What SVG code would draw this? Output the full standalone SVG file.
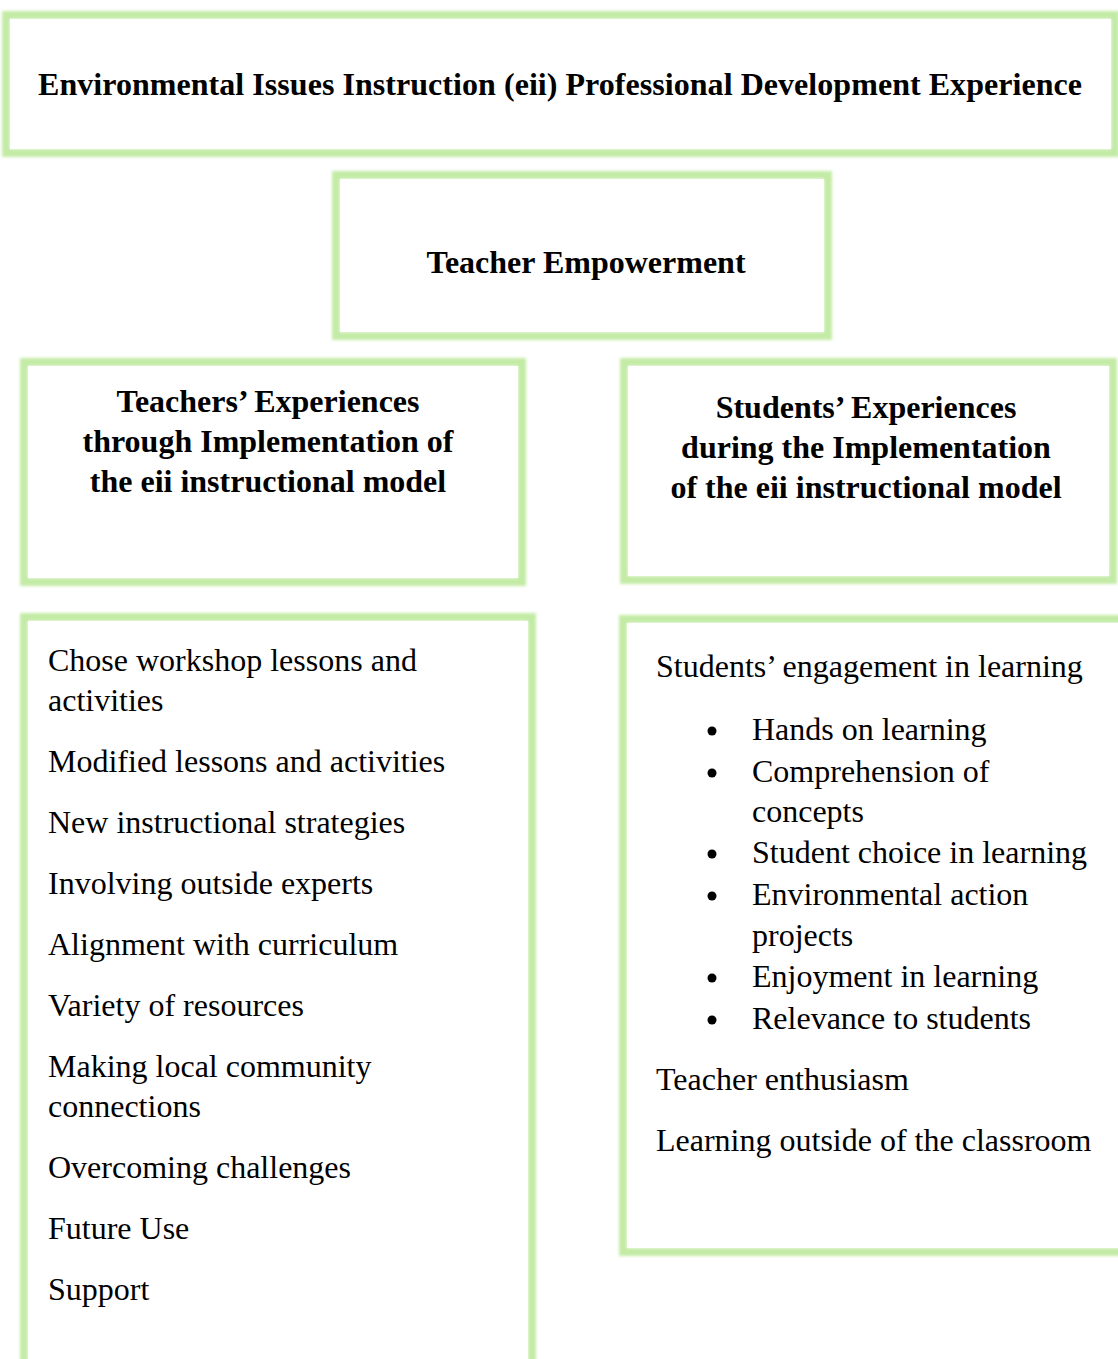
<svg xmlns="http://www.w3.org/2000/svg" width="1118" height="1359" viewBox="0 0 1118 1359">
<defs>
<filter id="glow" x="-5%" y="-5%" width="110%" height="110%">
<feGaussianBlur stdDeviation="1.8"/>
</filter>
</defs>
<style>
.frame{fill:none;stroke:#c3eba6;stroke-width:8;filter:url(#glow)}
.inner{fill:#ffffff}
.h{font-family:"Liberation Serif","Times New Roman",serif;font-weight:bold;font-size:32px;fill:#000;text-anchor:middle}
.t{font-family:"Liberation Serif","Times New Roman",serif;font-size:32px;fill:#000}
</style>
<rect width="1118" height="1359" fill="#ffffff"/>
<g id="node-eii">
<rect class="frame" x="6" y="15" width="1109" height="138"/>
<rect class="inner" x="10" y="19" width="1101" height="130"/>
<text class="h" x="560" y="95" textLength="1044" lengthAdjust="spacing">Environmental Issues Instruction (eii) Professional Development Experience</text>
</g>
<g id="node-empowerment">
<rect class="frame" x="336" y="175" width="492" height="161"/>
<rect class="inner" x="340" y="179" width="484" height="153"/>
<text class="h" x="586" y="273">Teacher Empowerment</text>
</g>
<g id="node-teachers">
<rect class="frame" x="24" y="362" width="498" height="220"/>
<rect class="inner" x="28" y="366" width="490" height="212"/>
<text class="h" x="268" y="412">Teachers’ Experiences</text>
<text class="h" x="268" y="452">through Implementation of</text>
<text class="h" x="268" y="492">the eii instructional model</text>
</g>
<g id="node-students">
<rect class="frame" x="624" y="362" width="489" height="218"/>
<rect class="inner" x="628" y="366" width="481" height="210"/>
<text class="h" x="866" y="418">Students’ Experiences</text>
<text class="h" x="866" y="458">during the Implementation</text>
<text class="h" x="866" y="498">of the eii instructional model</text>
</g>
<g id="node-teacher-list">
<rect class="frame" x="24" y="617" width="508" height="760"/>
<rect class="inner" x="28" y="621" width="500" height="752"/>
<text class="t" x="48" y="671">Chose workshop lessons and</text>
<text class="t" x="48" y="711">activities</text>
<text class="t" x="48" y="772">Modified lessons and activities</text>
<text class="t" x="48" y="833">New instructional strategies</text>
<text class="t" x="48" y="894">Involving outside experts</text>
<text class="t" x="48" y="955">Alignment with curriculum</text>
<text class="t" x="48" y="1016">Variety of resources</text>
<text class="t" x="48" y="1077">Making local community</text>
<text class="t" x="48" y="1117">connections</text>
<text class="t" x="48" y="1178">Overcoming challenges</text>
<text class="t" x="48" y="1239">Future Use</text>
<text class="t" x="48" y="1300">Support</text>
</g>
<g id="node-student-list">
<rect class="frame" x="623" y="619" width="510" height="633"/>
<rect class="inner" x="627" y="623" width="502" height="625"/>
<text class="t" x="656" y="677">Students’ engagement in learning</text>
<g fill="#000">
<circle cx="712" cy="731" r="4.5"/>
<circle cx="712" cy="773" r="4.5"/>
<circle cx="712" cy="854" r="4.5"/>
<circle cx="712" cy="896" r="4.5"/>
<circle cx="712" cy="978" r="4.5"/>
<circle cx="712" cy="1020" r="4.5"/>
</g>
<text class="t" x="752" y="740">Hands on learning</text>
<text class="t" x="752" y="782">Comprehension of</text>
<text class="t" x="752" y="822">concepts</text>
<text class="t" x="752" y="863">Student choice in learning</text>
<text class="t" x="752" y="905">Environmental action</text>
<text class="t" x="752" y="946">projects</text>
<text class="t" x="752" y="987">Enjoyment in learning</text>
<text class="t" x="752" y="1029">Relevance to students</text>
<text class="t" x="656" y="1090">Teacher enthusiasm</text>
<text class="t" x="656" y="1151">Learning outside of the classroom</text>
</g>
<g id="connectors"></g>
</svg>
